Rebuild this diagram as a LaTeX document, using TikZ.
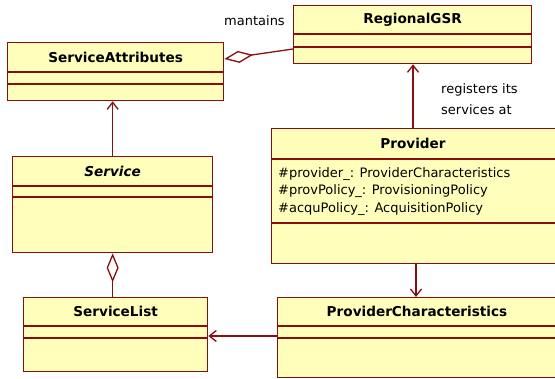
\documentclass[tikz,border=0pt]{standalone}
\usepackage{fontspec}
\setmainfont{DejaVu Sans}
\usetikzlibrary{arrows.meta,calc}
\definecolor{umlfill}{RGB}{255,255,187}
\definecolor{umlline}{RGB}{135,15,15}

\tikzset{
  classbox/.style={draw=umlline, fill=umlfill, line width=1.3pt, rectangle, inner sep=0pt, anchor=north west},
  classtitle/.style={font=\bfseries\fontsize{13.6}{15}\selectfont, inner sep=0pt},
  attr/.style={font=\fontsize{13}{14}\selectfont, inner sep=0pt, anchor=west},
  lbl/.style={font=\fontsize{13}{14}\selectfont, inner sep=0pt, anchor=west},
  sep/.style={draw=umlline, line width=1.3pt},
  assoc/.style={draw=umlline, line width=1.3pt, -{Straight Barb[length=7pt,width=11pt]}},
  aggr/.style={draw=umlline, line width=1.3pt, {Diamond[open,length=29pt,width=12pt]}-},
}

% class box: name, x, y, width, height, title band, attribute band
\newcommand\umlclass[7]{%
  \node[classbox, minimum width=#4pt, minimum height=#5pt] (#1) at (#2,#3) {};
  \draw[sep] ($(#1.north west)+(0,#6)$) -- ($(#1.north east)+(0,#6)$);
  \draw[sep] ($(#1.north west)+(0,#6+#7)$) -- ($(#1.north east)+(0,#6+#7)$);
}

\begin{document}
\begin{tikzpicture}[x=1pt,y=-1pt]
\useasboundingbox (0,0) rectangle (555,379);
\clip (0,0) rectangle (555,379);

% classes
\umlclass{sa}{7}{42}{216}{58}{30}{12}
\umlclass{svc}{12}{156}{200}{96}{30}{11}
\umlclass{sl}{23}{297}{184}{74}{29}{12}
\umlclass{rg}{293}{5}{238}{58}{29}{13}
\umlclass{pr}{271}{128}{330}{135}{31}{64}
\umlclass{pc}{277}{297}{330}{80}{29}{12}

% class names
\node[classtitle] (sa-t) at ($(sa.north)+(0,15)$) {ServiceAttributes};
\node[classtitle, font=\bfseries\itshape\fontsize{13.6}{15}\selectfont] (svc-t) at ($(svc.north)+(0,15)$) {Service};
\node[classtitle] (sl-t) at ($(sl.north)+(0,14.5)$) {ServiceList};
\node[classtitle] (rg-t) at ($(rg.north)+(0,14.5)$) {RegionalGSR};
\node[classtitle] (pr-t) at (413,143.5) {Provider};
\node[classtitle] (pc-t) at (417,311.5) {ProviderCharacteristics};

% Provider attributes
\node[attr] (pr-a1) at (278,174) {\#provider\_: ProviderCharacteristics};
\node[attr] (pr-a2) at (278,191.5) {\#provPolicy\_: ProvisioningPolicy};
\node[attr] (pr-a3) at (278,209) {\#acquPolicy\_: AcquisitionPolicy};

% relations
\draw[assoc] (svc.north) -- (svc.north |- sa.south);
\draw[aggr] (svc.south) -- (svc.south |- sl.north);

\path ($(sa.north east)+(0,17)$) coordinate (agg-a);
\path ($(rg.north west)+(0,44)$) coordinate (agg-b);
\draw[aggr] (agg-a) -- (agg-b);
\node[lbl] (mant) at (224,21) {mantains};

\path ($(pr.north west)+(142,0)$) coordinate (pr-up);
\draw[assoc] (pr-up) -- (pr-up |- rg.south);
\node[lbl] (reg1) at (441,90) {registers its};
\node[lbl] (reg2) at (441,110) {services at};

\path ($(pr.south west)+(145,0)$) coordinate (pr-dn);
\draw[assoc] (pr-dn) -- (pr-dn |- pc.north);

\path ($(pc.north west)+(0,39)$) coordinate (pc-l);
\draw[assoc] (pc-l) -- (pc-l -| sl.east);
\end{tikzpicture}
\end{document}
